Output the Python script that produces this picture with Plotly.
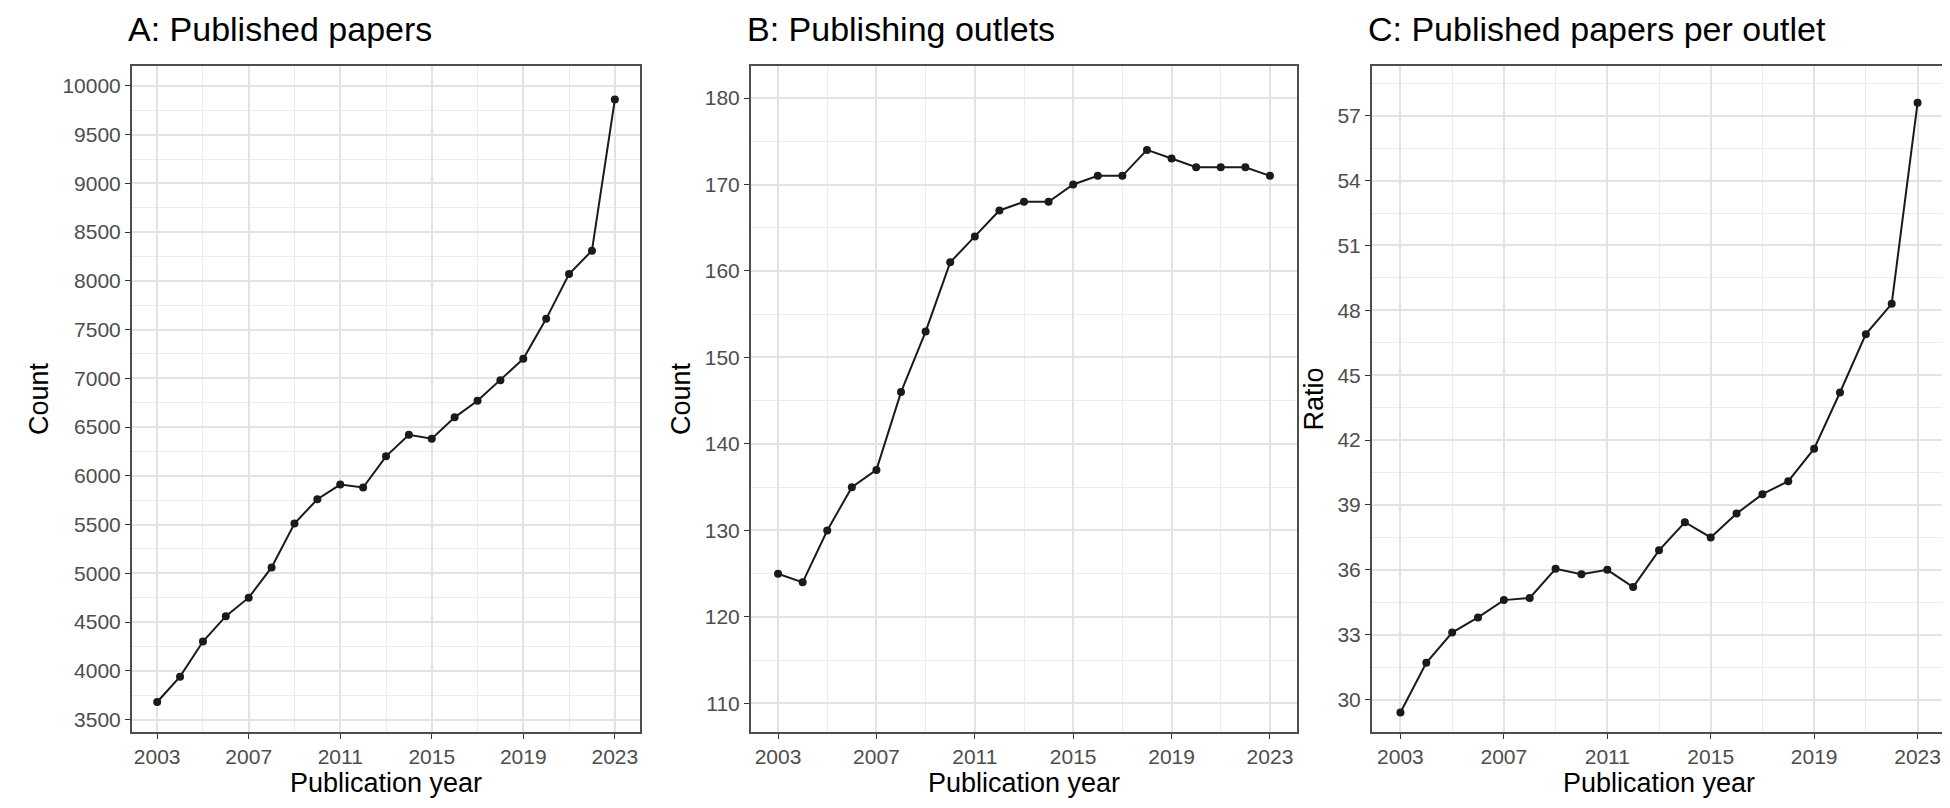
import plotly.graph_objects as go

years = list(range(2003, 2024))
papers = [3680, 3940, 4300, 4560, 4750, 5060, 5510, 5760, 5910, 5880, 6200, 6420, 6380, 6600, 6770, 6980, 7200, 7610, 8070, 8310, 9860]
outlets = [125, 124, 130, 135, 137, 146, 153, 161, 164, 167, 168, 168, 170, 171, 171, 174, 173, 172, 172, 172, 171]
ratio = [29.4, 31.7, 33.1, 33.8, 34.6, 34.7, 36.05, 35.8, 36.0, 35.2, 36.9, 38.2, 37.5, 38.6, 39.5, 40.1, 41.6, 44.2, 46.9, 48.3, 57.6]
titles = ["A: Published papers", "B: Publishing outlets", "C: Published papers per outlet"]
ylabels = ["Count", "Count", "Ratio"]

W, H = 1950, 808
doms = [(124, 632), (743, 1289), (1364, 1938)]
ydom = (1 - 724 / H, 1 - 58 / H)
yranges = [(3372, 10204), (106.7, 183.7), (28.5, 59.3)]
yticks = [(3500, 500, 250), (110, 10, 5), (30, 3, 1.5)]

fig = go.Figure()
font = "Liberation Sans, Arial, sans-serif"
for i, data in enumerate([papers, outlets, ratio]):
    n = "" if i == 0 else str(i + 1)
    fig.add_trace(go.Scatter(x=years, y=data, mode="lines+markers",
                             line=dict(color="#1a1a1a", width=2),
                             marker=dict(color="#1a1a1a", size=8),
                             xaxis="x" + n, yaxis="y" + n, showlegend=False))
    t0, dt, mdt = yticks[i]
    fig.layout["xaxis" + n] = dict(domain=[doms[i][0] / W, doms[i][1] / W], anchor="y" + n,
        range=[2001.9, 2024.1], tick0=2003, dtick=4, ticks="outside", ticklen=5,
        tickcolor="#333", tickfont=dict(size=21, color="#4d4d4d"),
        showgrid=True, gridcolor="#e3e3e3", gridwidth=1.5,
        minor=dict(dtick=2, tick0=2001, showgrid=True, gridcolor="#ececec", gridwidth=1),
        showline=True, mirror=True, linecolor="#4d4d4d", linewidth=2, zeroline=False,
        title=dict(text="Publication year", font=dict(size=27, color="black"), standoff=4))
    fig.layout["yaxis" + n] = dict(domain=list(ydom), anchor="x" + n,
        range=list(yranges[i]), tick0=t0, dtick=dt, tickformat="d", ticks="outside", ticklen=5,
        tickcolor="#333", tickfont=dict(size=21, color="#4d4d4d"),
        showgrid=True, gridcolor="#e3e3e3", gridwidth=1.5,
        minor=dict(dtick=mdt, tick0=t0, showgrid=True, gridcolor="#ececec", gridwidth=1),
        showline=True, mirror=True, linecolor="#4d4d4d", linewidth=2, zeroline=False,
        title=dict(text=ylabels[i], font=dict(size=27, color="black"), standoff=6))
    fig.add_annotation(text=titles[i], x=doms[i][0] / W - 0.003, y=1 - 42 / H, xref="paper", yref="paper",
                       xanchor="left", yanchor="bottom", showarrow=False,
                       font=dict(size=34, color="black"))

fig.update_layout(width=W, height=H, margin=dict(l=0, r=0, t=0, b=0),
                  plot_bgcolor="white", paper_bgcolor="white", font=dict(family=font))
fig.write_html("out.html")
